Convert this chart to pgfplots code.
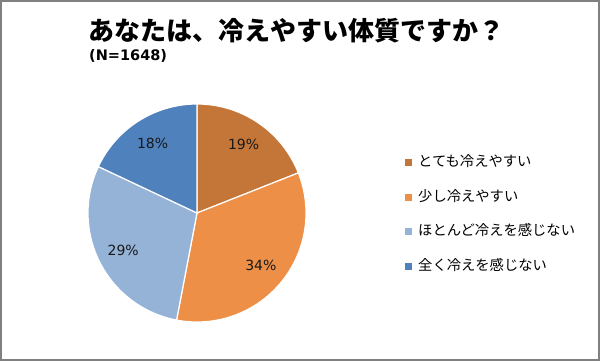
\documentclass[border=0pt]{standalone}
\usepackage{pgfplots}
\pgfplotsset{compat=1.18}
\usepackage{fontspec}
\setmainfont{Noto Sans CJK JP}
\newfontfamily\dejavu{DejaVu Sans}
\definecolor{c1}{RGB}{196,118,56}
\definecolor{c2}{RGB}{237,143,70}
\definecolor{c3}{RGB}{149,179,215}
\definecolor{c4}{RGB}{79,129,189}
\begin{document}
\begin{tikzpicture}
\def\cx{197}\def\cy{148}\def\R{109}
% percentages
\def\pa{19}\def\pb{34}\def\pc{29}\def\pd{18}
\pgfmathsetmacro\aa{90}
\pgfmathsetmacro\ab{\aa-3.6*\pa}
\pgfmathsetmacro\ac{\ab-3.6*\pb}
\pgfmathsetmacro\ad{\ac-3.6*\pc}
\pgfmathsetmacro\ae{\ad-3.6*\pd}
\begin{axis}[x=1pt,y=1pt,xmin=0,xmax=600,ymin=0,ymax=361,hide axis,clip=false,
  enlargelimits=false,
  legend style={at={(0.675,0.5679)}, anchor=north west, draw=none, fill=none,
    inner sep=0pt, font=\fontsize{14.3}{14.3}\selectfont, row sep=21.5pt,
    nodes={inner sep=0pt, text height=10.5pt, text depth=2.5pt},
    /tikz/every odd column/.style={column sep=6pt}},
  legend cell align=left,
  legend image code/.code={\fill[#1,draw=none] (0pt,-3.5pt) rectangle (7pt,3.5pt);},
]
\addplot[fill=c1, draw=white, line width=1.2pt, domain=\ab:\aa, samples=80]
  ({\cx+\R*cos(x)},{\cy+\R*sin(x)}) -- (axis cs:\cx,\cy) -- cycle;
\addlegendentry{とても冷えやすい}
\addplot[fill=c2, draw=white, line width=1.2pt, domain=\ac:\ab, samples=80]
  ({\cx+\R*cos(x)},{\cy+\R*sin(x)}) -- (axis cs:\cx,\cy) -- cycle;
\addlegendentry{少し冷えやすい}
\addplot[fill=c3, draw=white, line width=1.2pt, domain=\ad:\ac, samples=80]
  ({\cx+\R*cos(x)},{\cy+\R*sin(x)}) -- (axis cs:\cx,\cy) -- cycle;
\addlegendentry{ほとんど冷えを感じない}
\addplot[fill=c4, draw=white, line width=1.2pt, domain=\ae:\ad, samples=80]
  ({\cx+\R*cos(x)},{\cy+\R*sin(x)}) -- (axis cs:\cx,\cy) -- cycle;
\addlegendentry{全く冷えを感じない}
% percentage labels
\pgfmathsetmacro\ma{(\aa+\ab)/2}
\pgfmathsetmacro\mb{(\ab+\ac)/2}
\pgfmathsetmacro\mc{(\ac+\ad)/2}
\pgfmathsetmacro\md{(\ad+\ae)/2}
\node[font=\dejavu\fontsize{14}{14}\selectfont, text=black!90] at (axis cs:{\cx+0.76*\R*cos(\ma)},{\cy+0.76*\R*sin(\ma)}) {\pa\%};
\node[font=\dejavu\fontsize{14}{14}\selectfont, text=black!90] at (axis cs:{\cx+0.76*\R*cos(\mb)},{\cy+0.76*\R*sin(\mb)}) {\pb\%};
\node[font=\dejavu\fontsize{14}{14}\selectfont, text=black!90] at (axis cs:{\cx+0.76*\R*cos(\mc)},{\cy+0.76*\R*sin(\mc)}) {\pc\%};
\node[font=\dejavu\fontsize{14}{14}\selectfont, text=black!90] at (axis cs:{\cx+0.76*\R*cos(\md)},{\cy+0.76*\R*sin(\md)}) {\pd\%};
% titles
\node[anchor=base west, inner sep=0pt, font=\fontsize{26}{26}\selectfont\bfseries] at (axis cs:88,320) {あなたは、冷えやすい体質ですか？};
\node[anchor=base west, inner sep=0pt, font=\dejavu\fontsize{14.5}{14.5}\selectfont\bfseries] at (axis cs:89,300) {(N=1648)};
% frame
\draw[black!50, line width=2pt] (axis cs:1,1) rectangle (axis cs:599,360);
\end{axis}
\end{tikzpicture}
\end{document}
